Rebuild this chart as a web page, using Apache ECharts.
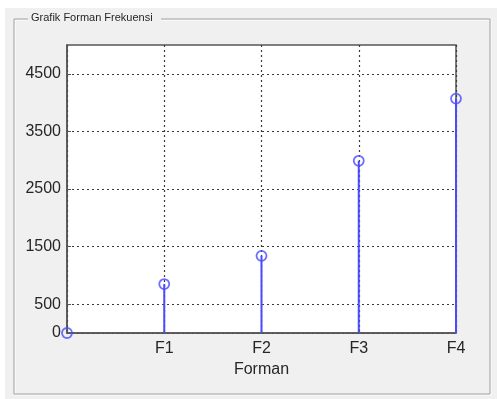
<!DOCTYPE html>
<html>
<head>
    <meta charset="utf-8">
    <style>
        html, body {
            margin: 0;
            padding: 0;
            background: #ffffff;
        }

        #main {
            width: 497px;
            height: 399px;
        }
    </style>
</head>
<body>
<div id="main"></div>

<script src="https://cdn.jsdelivr.net/npm/echarts@6/dist/echarts.min.js"></script>
<script type="text/javascript">
// data
var formantIndex = [0, 1, 2, 3, 4];
var formantLabels = ['', 'F1', 'F2', 'F3', 'F4'];
var formantValues = [0, 850, 1340, 2990, 4070];
var yTickValues = [0, 500, 1500, 2500, 3500, 4500];

var textColor = '#262626';
var stemColor = '#4a4aff';
var fontName = 'Liberation Sans';

var points = formantIndex.map(function (x, i) {
    return [x, formantValues[i]];
});

var myChart = echarts.init(document.getElementById('main'));

var option = {
    animation: false,
    backgroundColor: '#ffffff',
    graphic: [
        // figure background
        {
            type: 'rect',
            shape: {x: 5, y: 8, width: 492, height: 391},
            style: {fill: '#f0f0f0'},
            z: -10
        },
        // etched panel border
        {
            type: 'rect',
            shape: {x: 15, y: 20, width: 476, height: 375},
            style: {fill: 'none', stroke: '#ffffff', lineWidth: 1},
            z: -9
        },
        {
            type: 'rect',
            shape: {x: 14, y: 19, width: 476, height: 375},
            style: {fill: 'none', stroke: '#a0a0a0', lineWidth: 1},
            z: -8
        },
        {
            type: 'rect',
            shape: {x: 28, y: 12, width: 133, height: 14},
            style: {fill: '#f0f0f0'},
            z: -7
        },
        {
            type: 'text',
            left: 31,
            top: 12,
            style: {
                text: 'Grafik Forman Frekuensi',
                fill: textColor,
                font: '11px "Liberation Sans"'
            },
            z: -6
        }
    ],
    grid: {
        left: 67,
        right: 41,
        top: 45,
        bottom: 66,
        show: true,
        backgroundColor: '#ffffff',
        borderColor: '#555555',
        borderWidth: 1.5
    },
    xAxis: {
        type: 'value',
        min: 0,
        max: 4,
        interval: 1,
        name: 'Forman',
        nameLocation: 'middle',
        nameGap: 28,
        nameTextStyle: {color: textColor, fontSize: 16, fontFamily: fontName},
        axisLine: {lineStyle: {color: '#555555', width: 1.5}},
        axisTick: {inside: true, length: 4, lineStyle: {color: '#555555'}},
        axisLabel: {
            color: textColor,
            fontSize: 16,
            fontFamily: fontName,
            margin: 8,
            formatter: function (v) {
                return formantLabels[v] || '';
            }
        },
        splitLine: {show: true, lineStyle: {color: '#3a3a3a', type: [2, 3], width: 1.2}}
    },
    yAxis: {
        type: 'value',
        min: 0,
        max: 5000,
        axisLine: {show: true, lineStyle: {color: '#555555', width: 1.5}},
        axisTick: {show: true, inside: true, length: 4, customValues: yTickValues, lineStyle: {color: '#555555'}},
        axisLabel: {
            color: textColor,
            fontSize: 16,
            fontFamily: fontName,
            margin: 6,
            customValues: yTickValues,
            formatter: function (v) {
                return String(v);
            }
        },
        splitLine: {show: true, lineStyle: {color: '#3a3a3a', type: [2, 3], width: 1.2}}
    },
    series: [
        {
            name: 'stem',
            type: 'bar',
            barWidth: 2,
            itemStyle: {color: stemColor},
            data: points,
            z: 3
        },
        {
            name: 'marker',
            type: 'scatter',
            symbol: 'circle',
            symbolSize: 10,
            itemStyle: {color: 'rgba(0,0,0,0)', borderColor: stemColor, borderWidth: 1.8},
            data: points,
            z: 4
        }
    ]
};

myChart.setOption(option);
</script>
</body>
</html>
